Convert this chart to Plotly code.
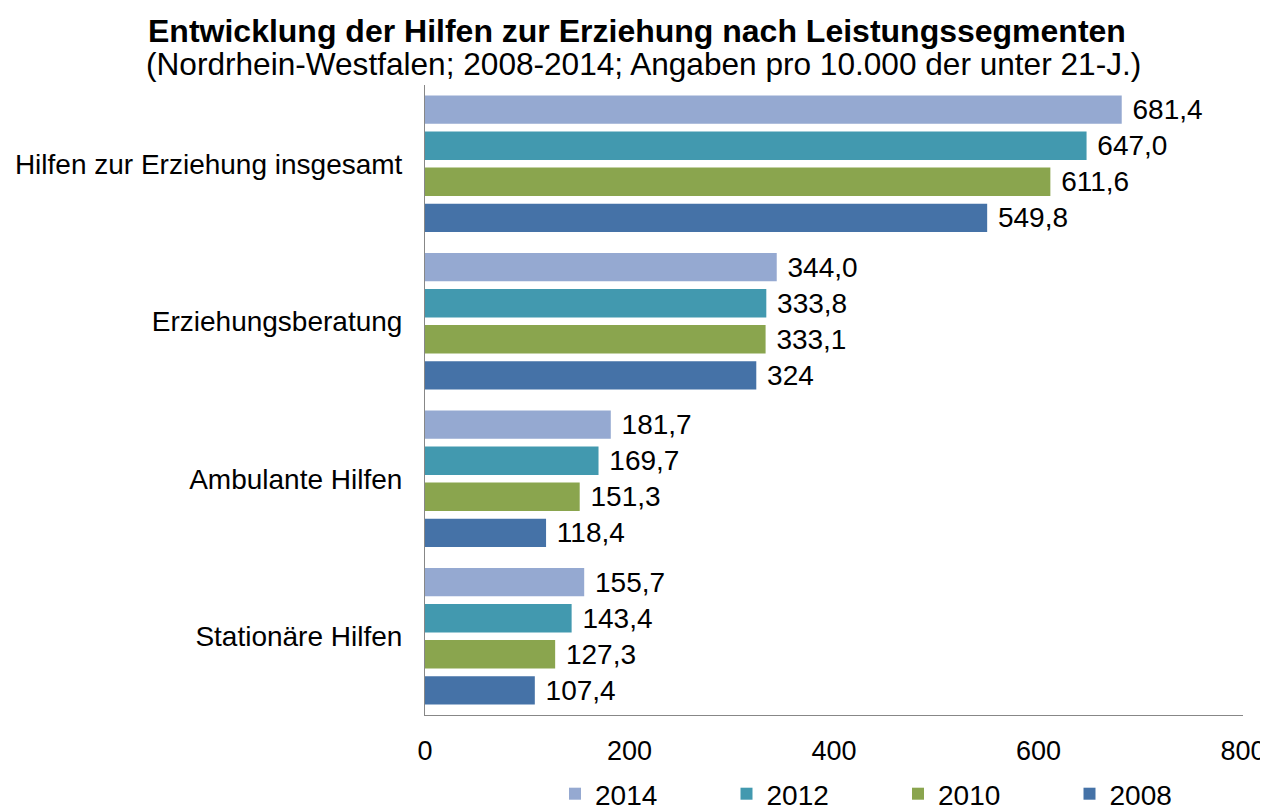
import plotly.graph_objects as go

categories = ["Hilfen zur Erziehung insgesamt", "Erziehungsberatung", "Ambulante Hilfen", "Stationäre Hilfen"]
years = ["2014", "2012", "2010", "2008"]
values_2014 = [681.4, 344.0, 181.7, 155.7]
values_2012 = [647.0, 333.8, 169.7, 143.4]
values_2010 = [611.6, 333.1, 151.3, 127.3]
values_2008 = [549.8, 324.0, 118.4, 107.4]
labels_2014 = ["681,4", "344,0", "181,7", "155,7"]
labels_2012 = ["647,0", "333,8", "169,7", "143,4"]
labels_2010 = ["611,6", "333,1", "151,3", "127,3"]
labels_2008 = ["549,8", "324", "118,4", "107,4"]
x_ticks = [0, 200, 400, 600, 800]

series = [
    ("2014", values_2014, labels_2014, "#95A9D1"),
    ("2012", values_2012, labels_2012, "#4299AF"),
    ("2010", values_2010, labels_2010, "#8AA54E"),
    ("2008", values_2008, labels_2008, "#4572A7"),
]

FONT = "Liberation Sans, Arial, sans-serif"
FS = 28

fig = go.Figure()
for name, vals, labs, col in series:
    fig.add_trace(go.Bar(
        name=name, y=categories, x=vals, orientation="h",
        marker=dict(color=col, line=dict(width=0)),
        text=["\u00a0" + t for t in labs], textposition="outside",
        constraintext="none",
        textfont=dict(family=FONT, size=FS, color="#000000"),
        cliponaxis=False,
    ))

# page is drawn with an 8px body offset, so figure coords = page coords - 8
OFF = 8
W, H = 1268, 810
L, T = 425 - OFF, 85 - OFF
R = W - (1243 - OFF)
B = H - (715 - OFF)
plot_w = W - L - R
plot_h = H - T - B

fig.update_layout(
    width=W, height=H,
    margin=dict(l=L, r=R, t=T, b=B, autoexpand=False),
    paper_bgcolor="white", plot_bgcolor="white",
    font=dict(family=FONT, size=FS, color="#000000"),
    barmode="group", bargap=0.085, bargroupgap=0.215,
    showlegend=True,
    legend=dict(orientation="h", x=(555 - OFF - L) / plot_w, xanchor="left",
                yref="container", y=(H - (794 - OFF)) / H, yanchor="middle",
                traceorder="normal",
                font=dict(family=FONT, size=FS, color="#000000"),
                entrywidth=126.5, entrywidthmode="pixels",
                itemwidth=30, bgcolor="rgba(0,0,0,0)"),
    annotations=[
        dict(text="<b>Entwicklung der Hilfen zur Erziehung nach Leistungssegmenten</b>",
             xref="paper", yref="paper", x=(637 - OFF - L) / plot_w, y=1, xanchor="center",
             yanchor="middle", yshift=54, showarrow=False,
             font=dict(family=FONT, size=32, color="#000000")),
        dict(text="(Nordrhein-Westfalen; 2008-2014; Angaben pro 10.000 der unter 21-J.)",
             xref="paper", yref="paper", x=(643 - OFF - L) / plot_w, y=1, xanchor="center",
             yanchor="middle", yshift=21, showarrow=False,
             font=dict(family=FONT, size=31.6, color="#000000")),
    ],
)
fig.update_xaxes(range=[0, 800], tickvals=x_ticks, ticktext=[str(v) for v in x_ticks],
                 showgrid=False, zeroline=False, showline=True, linecolor="#878787",
                 linewidth=1, ticks="", ticklabelstandoff=12, automargin=False,
                 tickfont=dict(family=FONT, size=27, color="#000000"))
fig.update_yaxes(autorange="reversed", showgrid=False, zeroline=False, showline=True,
                 linecolor="#878787", linewidth=1, ticks="", ticklabelstandoff=16,
                 automargin=False,
                 tickfont=dict(family=FONT, size=FS, color="#000000"))

fig.write_html("out.html")
